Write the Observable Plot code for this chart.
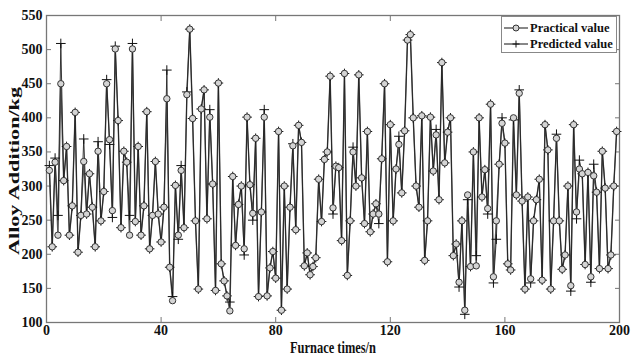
<!DOCTYPE html>
<html><head><meta charset="utf-8">
<script src="https://cdn.jsdelivr.net/npm/d3@7"></script>
<script src="https://cdn.jsdelivr.net/npm/@observablehq/plot@0.6"></script>
<style>
body{margin:0;background:#fff;}
#chart{position:relative;width:632px;height:360px;}
#legend{position:absolute;left:501px;top:16px;width:114px;height:35px;border:1px solid #888;background:#fff;font:bold 12.5px "Liberation Serif";color:#111;}
#legend .row{position:absolute;left:2px;height:16px;display:flex;align-items:center;}
#legend svg{margin-right:2px;}
</style></head><body><div id="chart"><div id="legend"></div></div>
<script>
const practical = [
323,211,335,228,450,308,358,228,271,408,203,257,336,259,318,269,211,351,249,292,450,
368,264,501,396,239,351,335,228,501,248,358,228,271,409,208,257,336,259,218,269,428,
181,132,301,228,323,239,434,530,399,249,149,413,441,252,401,303,147,451,186,161,
139,117,314,213,273,300,208,401,302,260,370,138,262,401,139,180,204,165,380,118,300,
149,269,359,236,389,364,183,202,170,182,195,310,248,339,350,461,268,329,327,220,465,
169,249,350,300,463,312,245,380,233,259,274,259,340,450,189,390,249,325,361,290,381,
514,522,400,300,269,403,191,249,401,322,375,280,481,334,379,400,198,215,159,249,118,
287,182,350,183,400,284,324,267,420,167,249,332,392,363,186,177,400,287,436,278,149,
284,164,249,280,310,162,390,353,149,249,370,249,178,199,300,154,390,262,325,318,
185,320,167,315,291,179,351,297,179,199,300,380
];
const predicted = [
330,211,341,257,509,308,358,228,271,408,203,257,369,259,318,269,211,365,249,292,456,
361,254,505,396,239,351,335,257,509,248,358,228,271,409,208,257,336,259,218,269,470,
181,138,301,222,330,239,438,530,399,249,149,413,441,252,412,303,147,451,186,161,
139,130,314,213,273,300,199,401,302,250,370,138,262,412,139,180,204,165,380,118,300,
149,269,362,236,389,364,183,202,170,182,195,310,248,339,350,461,259,329,327,220,465,
169,249,357,300,463,312,245,380,233,259,274,245,340,450,189,390,249,325,373,290,381,
514,522,400,300,269,403,191,249,401,322,383,280,481,334,379,400,198,215,152,249,112,
280,182,350,198,400,284,324,259,420,158,222,332,400,363,186,177,397,287,441,278,149,
284,158,249,280,310,162,390,353,149,249,376,249,178,199,300,146,390,252,338,318,
185,320,159,332,291,179,351,297,179,199,300,380
];
const xTicks = [0, 40, 80, 120, 160, 200];
const yTicks = [100, 150, 200, 250, 300, 350, 400, 450, 500, 550];
const seriesNames = ["Practical value", "Predicted value"];
const xTitle = "Furnace times/n";
const yTitle = "Alloy Addition/kg";

const rows = practical.map((v, i) => ({n: i + 1, practical: v, predicted: predicted[i]}));
const FONT = "Liberation Serif";

const plot = Plot.plot({
  width: 632, height: 360,
  marginLeft: 46, marginRight: 13, marginTop: 15, marginBottom: 38,
  style: {fontFamily: FONT, fontWeight: "bold", fontSize: "14px", background: "#fff", color: "#111"},
  x: {domain: [0, 200], label: null},
  y: {domain: [100, 550], label: null},
  marks: [
    Plot.axisX(xTicks, {anchor: "bottom", tickSize: -5, tickPadding: 8, label: null, stroke: "#777"}),
    Plot.axisX(xTicks, {anchor: "top", tickSize: -5, tickFormat: () => "", label: null, stroke: "#777"}),
    Plot.axisY(yTicks, {anchor: "left", tickSize: -5, tickPadding: 9, label: null, stroke: "#777"}),
    Plot.axisY(yTicks, {anchor: "right", tickSize: -5, tickFormat: () => "", label: null, stroke: "#777"}),
    Plot.frame({stroke: "#777", strokeWidth: 1.3}),
    Plot.line(rows, {x: "n", y: "practical", stroke: "#555", strokeWidth: 1.4}),
    Plot.line(rows, {x: "n", y: "predicted", stroke: "#222", strokeWidth: 0.9}),
    Plot.dot(rows, {x: "n", y: "predicted", symbol: "plus", r: 3.2, stroke: "#111", strokeWidth: 1}),
    Plot.dot(rows, {x: "n", y: "practical", r: 3.2, fill: "#d4d4d4", stroke: "#333", strokeWidth: 1}),
    Plot.text([xTitle], {frameAnchor: "bottom", dy: 30, text: d => d, fontSize: 17, fontWeight: "bold", fill: "#111"}),
    Plot.text([yTitle], {frameAnchor: "left", dx: -32, dy: 86, rotate: -90, textAnchor: "start", text: d => d, fontSize: 14, fontWeight: "bold", fill: "#111"})
  ]
});
document.getElementById("chart").prepend(plot);

// compress / stretch the axis titles like the reference
d3.select(plot).selectAll("text").each(function() {
  const t = this.textContent;
  if (t === xTitle) { this.setAttribute("textLength", 86); this.setAttribute("lengthAdjust", "spacingAndGlyphs"); }
  if (t === yTitle) { this.setAttribute("textLength", 168); this.setAttribute("lengthAdjust", "spacingAndGlyphs"); }
});

// legend
const legend = document.getElementById("legend");
seriesNames.forEach((name, i) => {
  const row = document.createElement("div");
  row.className = "row";
  row.style.top = (3 + i * 16) + "px";
  const sym = i === 0
    ? '<circle cx="12" cy="8" r="3" fill="#d4d4d4" stroke="#333"/>'
    : '<path d="M12 4.5V11.5M8.5 8H15.5" stroke="#111"/>';
  row.innerHTML = `<svg width="24" height="16"><line x1="0" x2="24" y1="8" y2="8" stroke="${i === 0 ? '#555' : '#111'}" stroke-width="${i === 0 ? 1.4 : 1}"/>${sym}</svg><span>${name}</span>`;
  legend.appendChild(row);
});
</script>
</body></html>
